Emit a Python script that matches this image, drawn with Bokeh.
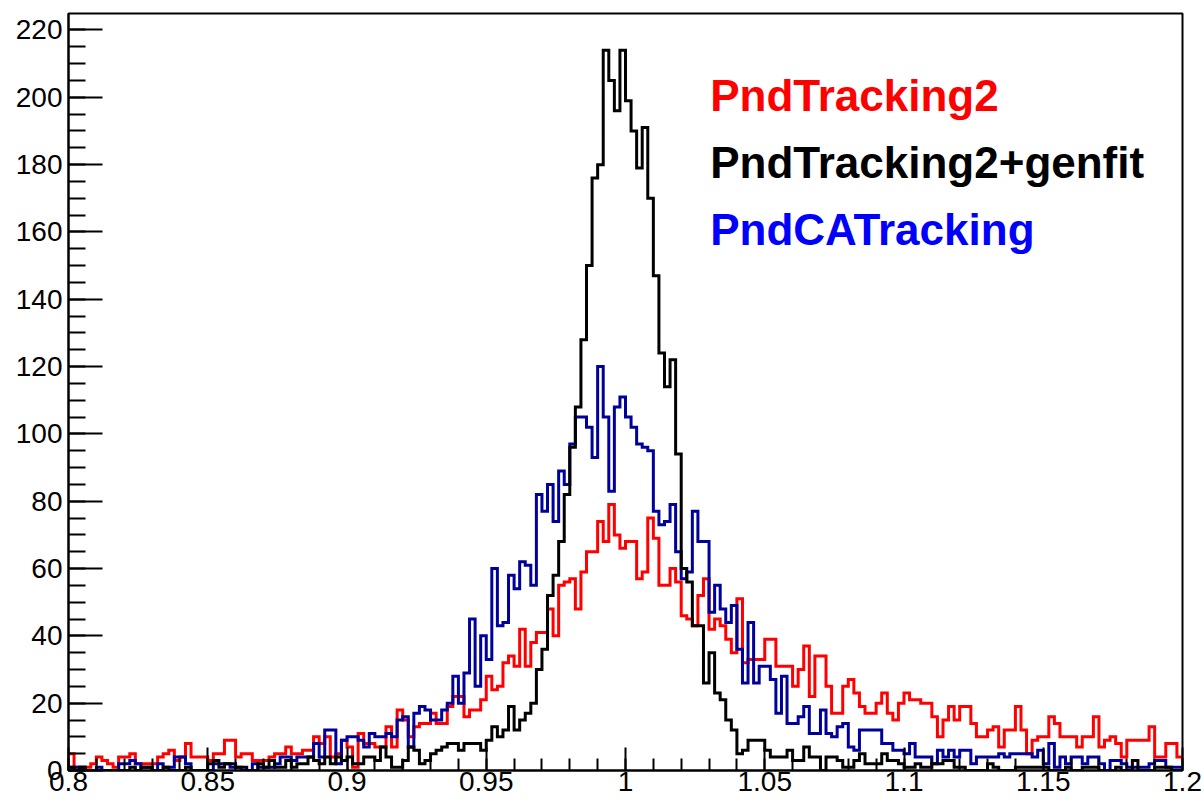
import numpy as np
from bokeh.plotting import figure
from bokeh.models import Range1d, FixedTicker, SingleIntervalTicker, Label
from bokeh.embed import file_html
from bokeh.resources import INLINE

# ---------------- data ----------------
x_min, x_max, n_bins = 0.8, 1.2, 200

pnd_tracking2 = [
    5, 1, 1, 1, 2, 4, 3, 2, 1, 4,
    4, 5, 2, 2, 2, 2, 4, 5, 6, 3,
    4, 8, 4, 4, 4, 3, 5, 5, 9, 9,
    4, 5, 5, 3, 3, 3, 4, 5, 5, 7,
    5, 5, 6, 6, 10, 8, 10, 4, 5, 9,
    7, 1, 11, 8, 8, 7, 7, 13, 7, 18,
    15, 10, 13, 14, 14, 17, 14, 14, 19, 22,
    22, 16, 18, 18, 21, 28, 24, 25, 32, 34,
    31, 42, 31, 38, 41, 41, 48, 40, 55, 56,
    57, 48, 59, 65, 65, 74, 68, 79, 70, 66,
    68, 68, 57, 59, 75, 69, 55, 55, 60, 56,
    46, 45, 43, 52, 57, 42, 45, 43, 39, 35,
    51, 32, 33, 33, 33, 39, 39, 31, 31, 31,
    25, 30, 37, 22, 34, 34, 25, 17, 17, 25,
    27, 23, 19, 17, 17, 20, 23, 17, 15, 20,
    23, 21, 21, 20, 20, 16, 10, 15, 19, 15,
    19, 19, 14, 10, 10, 12, 13, 7, 12, 12,
    19, 12, 5, 9, 10, 10, 16, 14, 10, 10,
    10, 7, 10, 10, 16, 7, 9, 10, 8, 4,
    9, 9, 9, 9, 13, 4, 4, 8, 8, 4,
]

pnd_tracking2_genfit = [
    1, 0, 1, 0, 0, 0, 0, 0, 0, 0,
    0, 1, 0, 1, 1, 0, 0, 1, 0, 0,
    0, 1, 0, 0, 0, 2, 3, 1, 2, 2,
    1, 1, 0, 0, 2, 1, 3, 1, 1, 3,
    1, 2, 2, 4, 3, 2, 4, 2, 4, 3,
    4, 2, 2, 4, 4, 3, 7, 4, 1, 1,
    3, 7, 6, 2, 3, 5, 6, 7, 8, 8,
    6, 8, 8, 8, 6, 9, 13, 10, 12, 19,
    12, 15, 17, 20, 30, 36, 52, 58, 68, 82,
    96, 108, 128, 150, 176, 180, 214, 205, 196, 214,
    199, 190, 179, 191, 170, 147, 124, 114, 122, 94,
    60, 56, 43, 43, 26, 35, 23, 21, 15, 12,
    5, 6, 9, 9, 9, 6, 4, 4, 4, 6,
    3, 3, 7, 4, 4, 0, 4, 4, 3, 1,
    1, 3, 5, 2, 2, 2, 5, 3, 3, 2,
    1, 1, 2, 1, 1, 2, 2, 3, 3, 1,
    1, 0, 0, 0, 0, 2, 1, 0, 0, 0,
    1, 1, 1, 1, 1, 1, 0, 0, 0, 1,
    0, 0, 1, 1, 1, 0, 0, 0, 1, 0,
    0, 3, 0, 0, 0, 1, 1, 1, 0, 0,
]

pnd_ca_tracking = [
    1, 1, 1, 0, 0, 1, 0, 0, 0, 2,
    2, 3, 2, 1, 1, 0, 2, 1, 1, 4,
    4, 2, 0, 0, 0, 0, 2, 2, 2, 1,
    1, 0, 0, 2, 1, 1, 1, 2, 4, 4,
    3, 4, 4, 4, 8, 4, 12, 12, 2, 9,
    10, 10, 9, 7, 11, 10, 10, 11, 10, 15,
    16, 7, 17, 19, 18, 15, 15, 18, 20, 28,
    20, 29, 45, 25, 40, 33, 60, 43, 44, 58,
    54, 62, 61, 55, 82, 77, 85, 74, 89, 85,
    97, 105, 105, 102, 93, 120, 105, 83, 108, 111,
    105, 102, 97, 96, 95, 77, 73, 74, 79, 65,
    57, 59, 77, 68, 68, 47, 55, 48, 44, 49,
    36, 26, 44, 26, 31, 31, 27, 17, 28, 14,
    14, 16, 19, 11, 11, 18, 11, 10, 13, 14,
    7, 6, 12, 12, 12, 12, 8, 8, 6, 6,
    5, 8, 4, 4, 4, 2, 6, 4, 6, 4,
    6, 6, 2, 4, 4, 4, 4, 5, 4, 5,
    5, 5, 5, 4, 6, 2, 8, 1, 4, 2,
    4, 4, 2, 4, 4, 2, 0, 3, 3, 2,
    1, 1, 1, 1, 2, 3, 3, 1, 1, 1,
]

series_labels = ["PndTracking2", "PndTracking2+genfit", "PndCATracking"]
x_ticks = [0.8, 0.85, 0.9, 0.95, 1.0, 1.05, 1.1, 1.15, 1.2]
x_tick_labels = ["0.8", "0.85", "0.9", "0.95", "1", "1.05", "1.1", "1.15", "1.2"]
y_ticks = [0, 20, 40, 60, 80, 100, 120, 140, 160, 180, 200, 220]

# ---------------- figure ----------------
edges = np.linspace(x_min, x_max, n_bins + 1)

p = figure(width=1204, height=803, output_backend="svg", toolbar_location=None,
           x_range=Range1d(x_min, x_max), y_range=Range1d(0, 224.9),
           min_border_left=68, min_border_right=22, min_border_top=13,
           min_border_bottom=33, background_fill_color="white",
           border_fill_color="white")

p.xgrid.visible = False
p.ygrid.visible = False
p.outline_line_color = "black"
p.outline_line_width = 2
p.outline_line_alpha = 1.0

minor_x = [round(x_min + 0.01 * i, 2) for i in range(41)]
p.xaxis.ticker = FixedTicker(ticks=x_ticks, minor_ticks=minor_x)
p.xaxis.major_label_overrides = dict(zip(x_ticks, x_tick_labels))
p.yaxis.ticker = FixedTicker(ticks=y_ticks,
                             minor_ticks=[5 * i for i in range(45)])

for ax in (p.xaxis, p.yaxis):
    ax.axis_line_color = "black"
    ax.axis_line_width = 2
    ax.major_tick_line_color = "black"
    ax.minor_tick_line_color = "black"
    ax.major_tick_line_width = 2
    ax.minor_tick_line_width = 2
    ax.major_tick_out = 0
    ax.minor_tick_out = 0
    ax.major_label_text_font = "Liberation Sans"
    ax.major_label_text_font_size = "28px"
    ax.major_label_text_color = "black"

p.xaxis.major_tick_in = 23
p.xaxis.minor_tick_in = 12
p.xaxis.major_label_standoff = 1
p.yaxis.major_tick_in = 34
p.yaxis.minor_tick_in = 17
p.yaxis.major_label_standoff = 6

line_colors = ["#ff0000", "#00009a", "#000000"]
for vals, col in ((pnd_tracking2, line_colors[0]),
                  (pnd_ca_tracking, line_colors[1]),
                  (pnd_tracking2_genfit, line_colors[2])):
    yv = list(vals) + [vals[-1]]
    p.step(edges, yv, mode="after", line_color=col, line_width=3,
           line_join="miter")

text_colors = ["#ff0000", "#000000", "#0000ff"]
text_y = [200.5, 180.6, 160.7]
for lab, col, ty in zip(series_labels, text_colors, text_y):
    p.add_layout(Label(x=1.0304, y=ty, text=lab, text_color=col,
                       text_font="Liberation Sans", text_font_style="bold",
                       text_font_size="44px", text_baseline="alphabetic"))

open("out.html", "w").write(file_html(p, INLINE))
